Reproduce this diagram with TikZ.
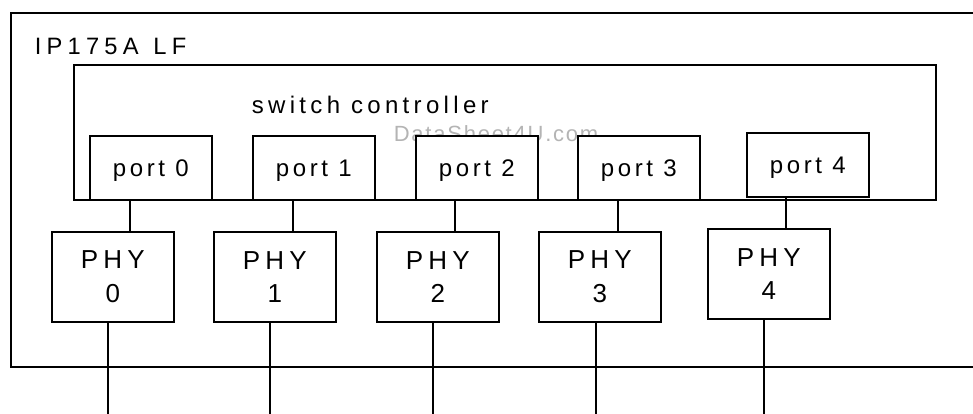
\documentclass[tikz,border=0pt]{standalone}
\usepackage{fontspec}
\setmainfont{Liberation Sans}
\newfontfamily\chipfont{Liberation Sans}[LetterSpace=22]
\newfontfamily\swfont{Liberation Sans}[LetterSpace=18]
\newfontfamily\portfont{Liberation Sans}[LetterSpace=15]
\newfontfamily\phyfont{Liberation Sans}[LetterSpace=20]
\newfontfamily\wmfont{Liberation Sans}[LetterSpace=8]
\definecolor{wmgray}{RGB}{180,180,180}
\begin{document}
\begin{tikzpicture}[x=1pt,y=-1pt,line width=1.7pt,
  frame/.style={draw,inner sep=0pt,anchor=north west},
  portbox/.style={draw,fill=white,inner sep=0pt,anchor=north west,
    minimum width=122pt,minimum height=64pt,text depth=0pt,
    font=\portfont\fontsize{24}{28}\selectfont},
  phybox/.style={draw,fill=white,inner sep=0pt,anchor=north west,
    minimum width=122pt,minimum height=90pt,align=center,
    font=\phyfont\fontsize{26}{33.4}\selectfont},
  lbl/.style={anchor=base west,inner sep=0pt},
  wire/.style={draw,line width=1.7pt}]
\useasboundingbox (0,0) rectangle (973,413);
\clip (0,0) rectangle (973,413);
\fill[white] (0,0) rectangle (973,413);
% chip outline (right edge lies beyond the picture)
\node[frame,minimum width=1000pt,minimum height=354pt] (chip) at (10,12) {};
\node[lbl,font=\chipfont\fontsize{23.7}{28}\selectfont] (chiplbl) at (34,54.5) {IP175A\hspace{3pt} LF};
% switch controller
\node[frame,minimum width=862pt,minimum height=135pt] (sw) at (73,64) {};
\node[lbl,font=\swfont\fontsize{24}{28}\selectfont] (swlbl) at (251,113) {switch controller};
% watermark
\node[lbl,text=wmgray,font=\wmfont\fontsize{22}{26}\selectfont] (wm) at (393,141.5) {DataSheet4U.com};
% ports
\node[portbox] (p0) at (89,135) {port 0};
\node[portbox] (p1) at (252,135) {port 1};
\node[portbox] (p2) at (415,135) {port 2};
\node[portbox] (p3) at (577,135) {port 3};
\node[portbox] (p4) at (746,132) {port 4};
% PHYs
\node[phybox] (phy0) at (51,231) {PHY\\0};
\node[phybox] (phy1) at (213,231) {PHY\\1};
\node[phybox] (phy2) at (376,231) {PHY\\2};
\node[phybox] (phy3) at (538,231) {PHY\\3};
\node[phybox] (phy4) at (707,228) {PHY\\4};
\coordinate (bottom) at (0,420);
% port to PHY links
\foreach \i/\s in {0/41,1/41,2/40,3/41,4/40}
  \draw[wire] ([xshift=\s pt]p\i.south west) -- ([xshift=\s pt]p\i.south west |- phy\i.north);
% PHY external lines
\foreach \i/\s in {0/57,1/57,2/57,3/58,4/57}
  \draw[wire] ([xshift=\s pt]phy\i.south west) -- ([xshift=\s pt]phy\i.south west |- bottom);
\end{tikzpicture}
\end{document}
